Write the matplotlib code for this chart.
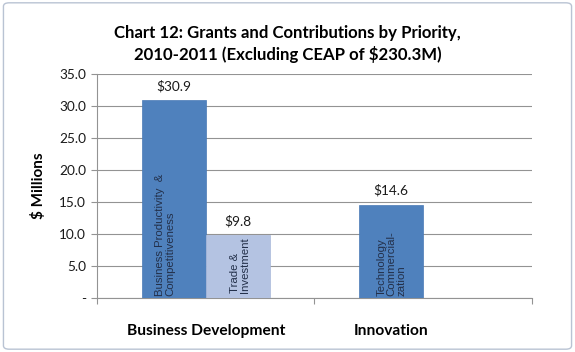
import numpy as np
import matplotlib
matplotlib.use('Agg')
import matplotlib.pyplot as plt
from matplotlib.patches import FancyBboxPatch

# Data
groups = ['Business Development', 'Innovation']
series1_values = [30.9, 14.6]          # dark blue bars
series2_values = [9.8, None]           # light blue bars (none for Innovation)
series1_names = ['Business Productivity  &\nCompetitiveness', 'Technology\nCommercial-\nzation']
series2_names = ['Trade &\nInvestment', None]
y_ticks = [0, 5, 10, 15, 20, 25, 30, 35]
y_tick_labels = ['-', '5.0', '10.0', '15.0', '20.0', '25.0', '30.0', '35.0']

dark = '#4F81BD'
light = '#B4C3E2'
grid_col = '#939393'
text_font = 'Lato'
inner_font = 'Liberation Sans'

fig = plt.figure(figsize=(5.75, 3.52), dpi=100)
ax = fig.add_axes([0.1687, 0.1534, 0.925 - 0.1687, 0.7898 - 0.1534])

# outer chart border
border = FancyBboxPatch((0.006, 0.008), 0.988, 0.984, boxstyle='round,pad=0,rounding_size=0.01',
                        transform=fig.transFigure, facecolor='white', edgecolor='#B9C3D3',
                        linewidth=1.0, zorder=-10)
fig.patches.append(border)

width = 0.294
centers = np.arange(len(groups)) + 0.5
x1 = centers - width / 2
x2 = centers + width / 2

ax.set_xlim(0, 2)
ax.set_ylim(0, 35)

for i in range(len(groups)):
    v = series1_values[i]
    ax.bar(x1[i], v, width, color=dark, edgecolor='#4A7AB5', linewidth=0.5, zorder=3)
    ax.text(x1[i], v + 1.2, '$%.1f' % v, ha='center', va='bottom',
            fontsize=9.8, family=text_font, color='#1a1a1a')
    v2 = series2_values[i]
    if v2 is not None:
        ax.bar(x2[i], v2, width, color=light, edgecolor='#A9B9DA', linewidth=0.5, zorder=3)
        ax.text(x2[i], v2 + 1.2, '$%.1f' % v2, ha='center', va='bottom',
                fontsize=9.8, family=text_font, color='#1a1a1a')

# names written inside bars
offsets = [-0.04, 0.0]
for i in range(len(groups)):
    ax.text(x1[i] + offsets[i], 0.3, series1_names[i], rotation=90, rotation_mode='anchor',
            ha='left', va='center', multialignment='left', fontsize=8.2,
            family=inner_font, color='#23304A', linespacing=1.0, zorder=4)
    if series2_names[i] is not None:
        ax.text(x2[i] + 0.01, 0.8, series2_names[i], rotation=90, rotation_mode='anchor',
                ha='left', va='center', multialignment='left', fontsize=8.2,
                family=inner_font, color='#23304A', linespacing=1.0, zorder=4)

# gridlines and axes
ax.set_yticks(y_ticks)
ax.set_yticklabels(y_tick_labels, family=text_font, fontsize=9.8, color='#1a1a1a')
ax.yaxis.grid(True, color=grid_col, linewidth=0.8, zorder=0)
ax.set_axisbelow(True)
ax.set_xticks([0, 1, 2])
ax.set_xticklabels([])
ax.tick_params(axis='x', length=4, color=grid_col, width=0.8, direction='out')
ax.tick_params(axis='y', length=4, color=grid_col, width=0.8, direction='out', pad=4)
for s in ['top', 'right']:
    ax.spines[s].set_visible(False)
for s in ['left', 'bottom']:
    ax.spines[s].set_color(grid_col)
    ax.spines[s].set_linewidth(0.8)

# category labels
label_x = [centers[0], x1[1]]
for lx, g in zip(label_x, groups):
    ax.text(lx, -5.2, g, ha='center', va='center', fontsize=11.2, fontweight='bold',
            family=text_font, color='black')

ax.set_ylabel('$ Millions', family=text_font, fontsize=11, fontweight='bold', labelpad=9)

fig.text(0.5, 0.875, 'Chart 12: Grants and Contributions by Priority,\n2010-2011 (Excluding CEAP of $230.3M)',
         ha='center', va='center', fontsize=12.1, fontweight='bold', family=text_font,
         linespacing=1.3)

fig.savefig('out.png', dpi=100)
